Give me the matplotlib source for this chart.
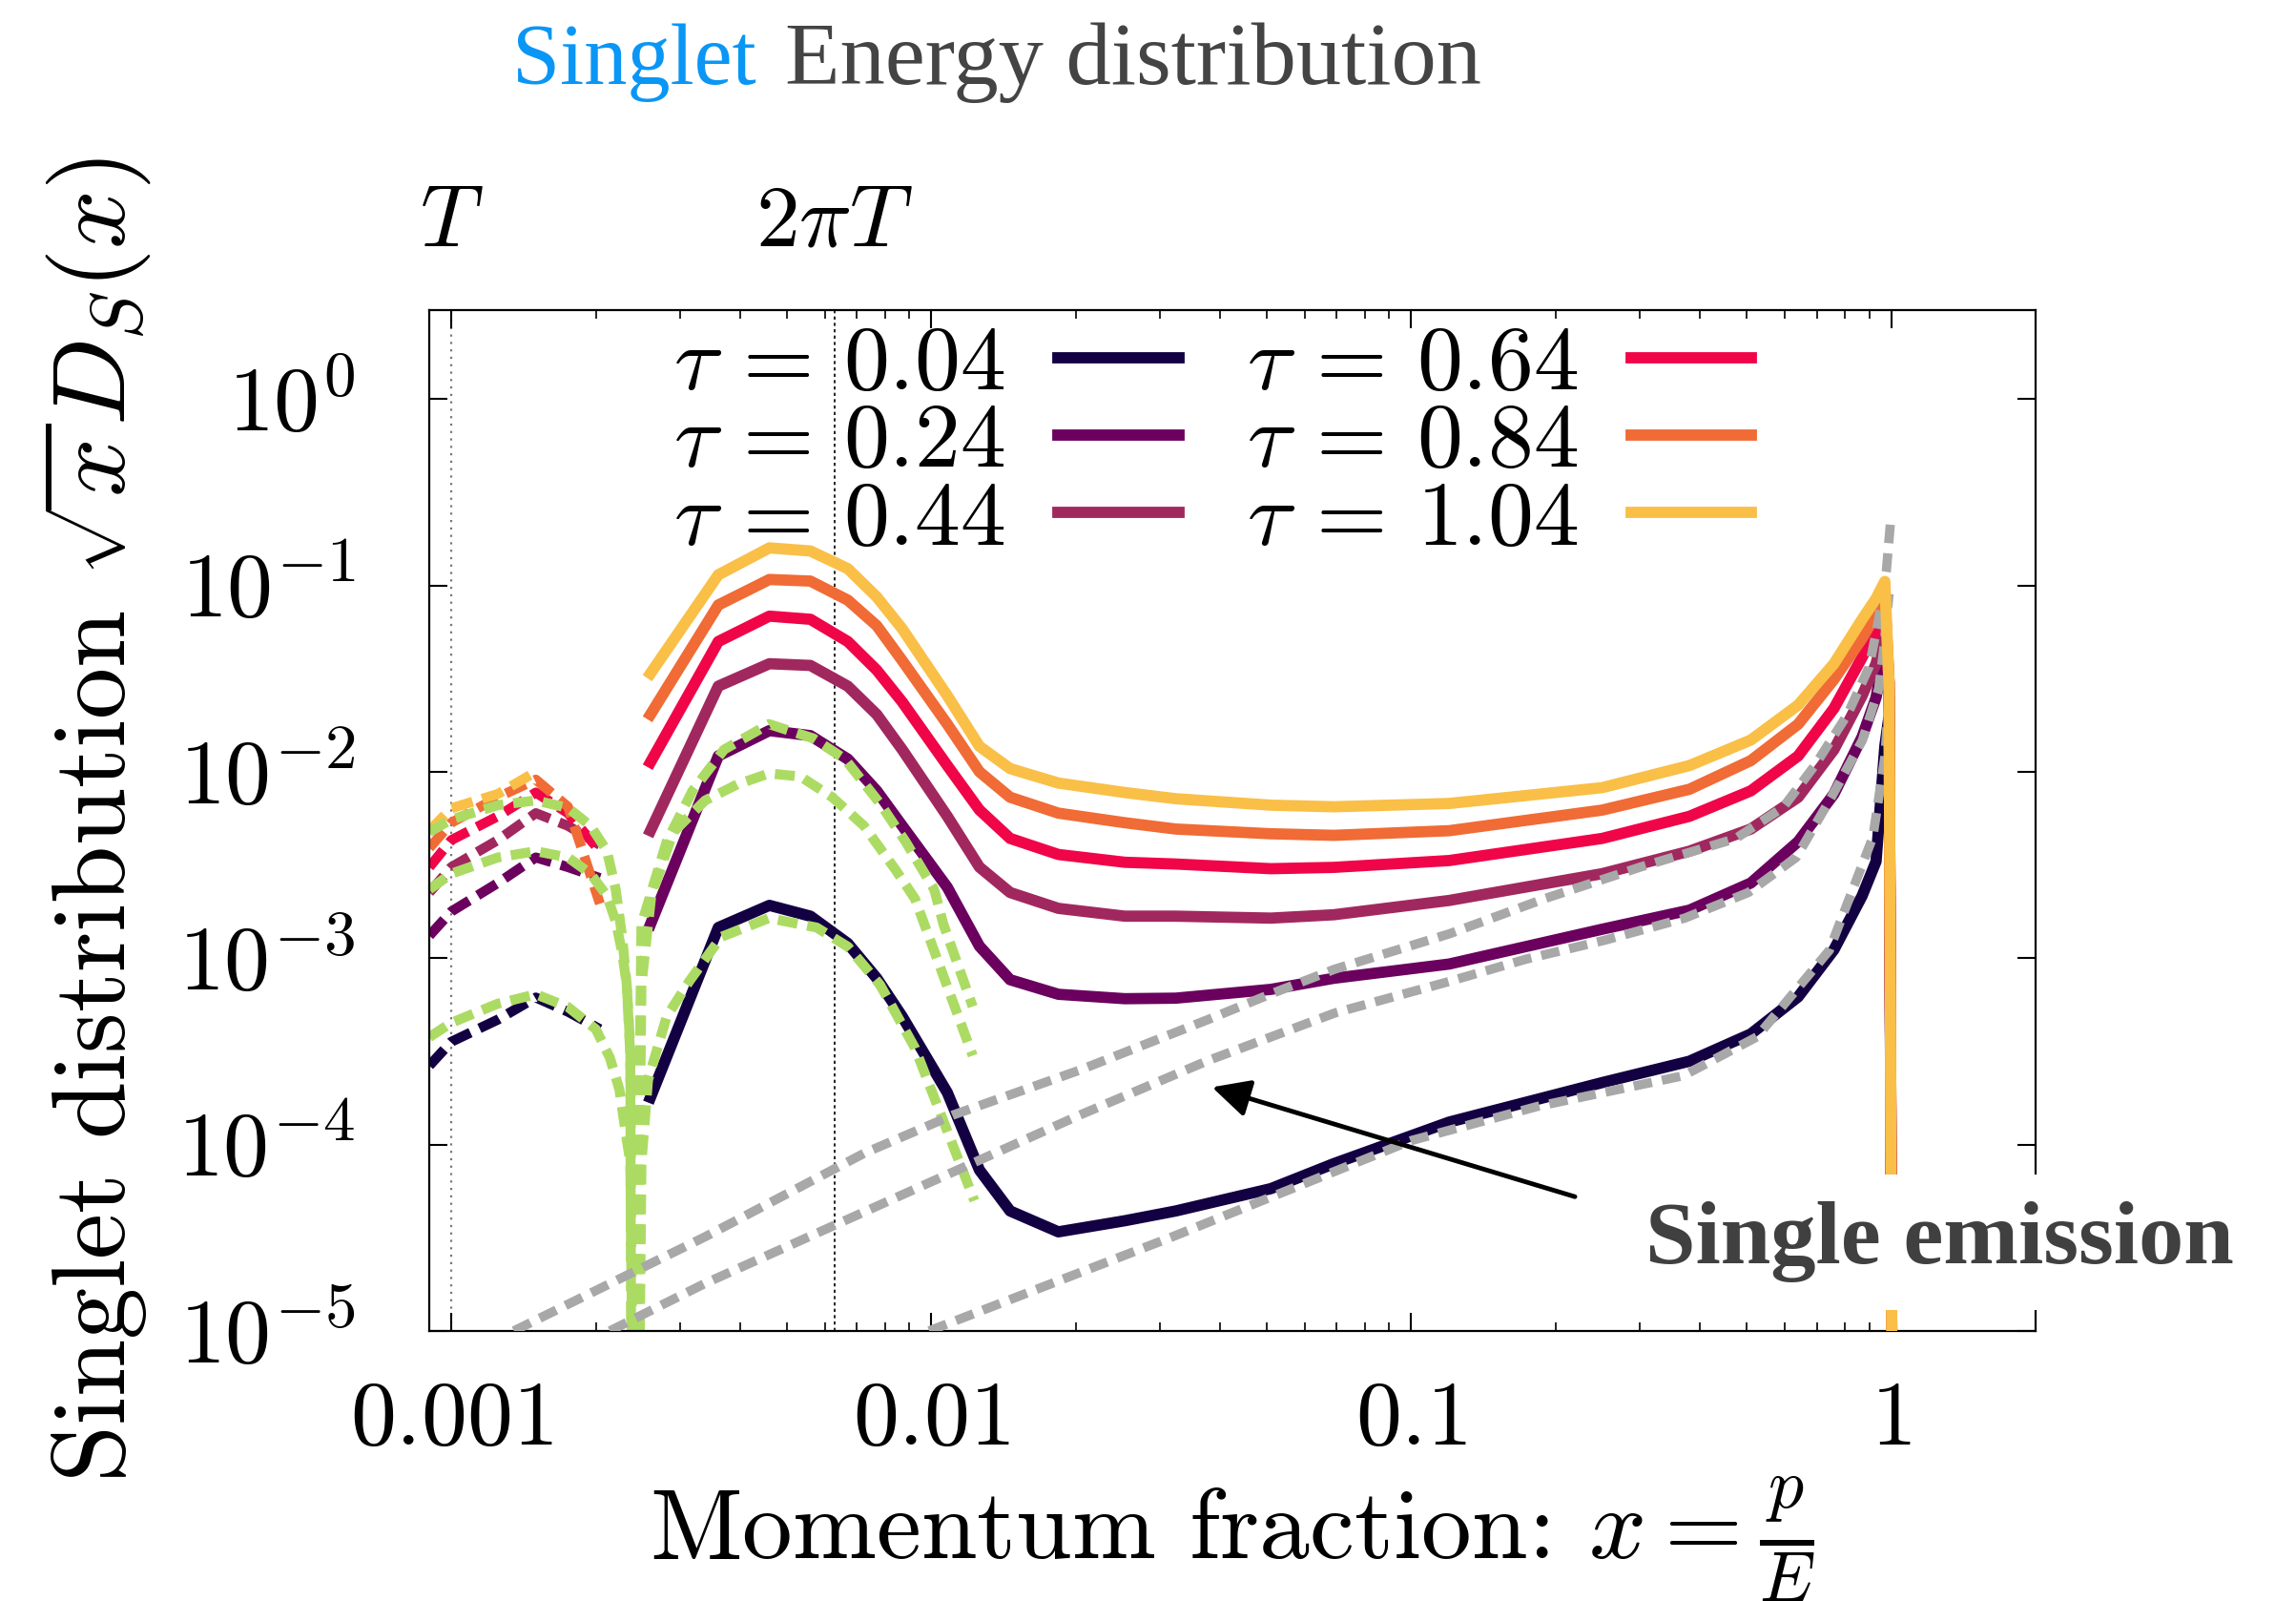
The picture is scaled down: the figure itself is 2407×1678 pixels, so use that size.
import matplotlib
matplotlib.use("Agg")
import matplotlib.pyplot as plt
from matplotlib.ticker import FixedLocator, FixedFormatter, NullFormatter
import matplotlib.transforms as mtransforms

plt.rcParams['mathtext.fontset'] = 'cm'
plt.rcParams['font.family'] = ['Liberation Serif', 'DejaVu Serif']

# Temperature scale (in units of E)
T_val = 0.001

taus = [0.04, 0.24, 0.44, 0.64, 0.84, 1.04]
tau_colors = ['#130042', '#6b005e', '#a1285e', '#f00548', '#f06b35', '#f9bf47']

# Full evolution, x > 2.5 T
x_solid = [0.0026, 0.0036, 0.0046, 0.0056, 0.0067, 0.0077, 0.0087, 0.0108, 0.0126,
           0.0146, 0.0184, 0.0253, 0.0323, 0.051, 0.069, 0.12, 0.25, 0.38, 0.51,
           0.64, 0.76, 0.87, 0.93, 0.97, 0.99, 1.01]
d_tau004 = [0.000179, 0.00146, 0.00192, 0.00168, 0.0012, 0.00078, 0.000486, 0.00019, 7.3e-5,
            4.4e-5, 3.4e-5, 3.9e-5, 4.4e-5, 5.8e-5, 7.9e-5, 0.000132, 0.000215, 0.00028, 0.000392,
            0.00062, 0.00111, 0.00216, 0.0033, 0.0137, 0.02, 1e-7]
d_tau024 = [0.00152, 0.01216, 0.01663, 0.01563, 0.0117, 0.0079, 0.00513, 0.0024, 0.00116,
            0.000766, 0.00064, 0.000606, 0.00061, 0.00068, 0.00078, 0.00093, 0.00143, 0.00181, 0.00253,
            0.00422, 0.0076, 0.0154, 0.025, 0.046, 0.025, 1e-7]
d_tau044 = [0.00483, 0.0288, 0.038, 0.0372, 0.0288, 0.0203, 0.01315, 0.00577, 0.00308,
            0.00225, 0.00185, 0.00168, 0.00168, 0.00164, 0.00171, 0.00204, 0.00284, 0.00375, 0.00493,
            0.0073, 0.01315, 0.0256, 0.038, 0.058, 0.03, 1e-7]
d_tau064 = [0.01125, 0.05, 0.0684, 0.0658, 0.05, 0.0351, 0.0237, 0.0108, 0.00624,
            0.00439, 0.0036, 0.00327, 0.0032, 0.00302, 0.00307, 0.00334, 0.00439, 0.00577, 0.0079,
            0.01216, 0.0219, 0.0411, 0.058, 0.078, 0.03, 1e-7]
d_tau084 = [0.0203, 0.0785, 0.1076, 0.1055, 0.0834, 0.0608, 0.0395, 0.018, 0.01,
            0.0073, 0.006, 0.00533, 0.00493, 0.00465, 0.00456, 0.00483, 0.00623, 0.00806, 0.01148,
            0.018, 0.0313, 0.052, 0.07, 0.09, 0.03, 1e-7]
d_tau104 = [0.0337, 0.114, 0.159, 0.153, 0.123, 0.0867, 0.0585, 0.0256, 0.0137,
            0.0104, 0.0087, 0.00774, 0.00717, 0.00662, 0.00649, 0.00676, 0.00822, 0.0108, 0.0148,
            0.0228, 0.038, 0.0658, 0.085, 0.105, 0.03, 1e-7]
d_solid = [d_tau004, d_tau024, d_tau044, d_tau064, d_tau084, d_tau104]

# Soft region, x < 2 T
x_soft = [0.0009, 0.001, 0.00125, 0.0015, 0.00175, 0.00204]
s_tau004 = [0.000265, 0.000356, 0.000468, 0.000615, 0.000516, 0.000416]
s_tau024 = [0.00132, 0.00178, 0.00253, 0.00347, 0.00308, 0.00269]
s_tau044 = [0.00225, 0.00308, 0.0043, 0.006, 0.00513, 0.00405]
s_tau064 = [0.00308, 0.0043, 0.00577, 0.00774, 0.006, 0.00375]
s_tau084 = [0.0039, 0.00533, 0.0073, 0.00908, 0.00649, 0.00196]
s_tau104 = [0.00483, 0.00637, 0.0076, 0.01]
d_soft = [s_tau004, s_tau024, s_tau044, s_tau064, s_tau084, s_tau104]

# Thermal (green) curves
x_th1 = [0.0009, 0.001, 0.00125, 0.0015, 0.00175, 0.002, 0.00214, 0.00224, 0.0023, 0.00236,
         0.00243, 0.00249, 0.00257, 0.00281, 0.00313, 0.00365, 0.00459, 0.00577, 0.00671,
         0.00782, 0.00925, 0.0123]
y_th1 = [0.000377, 0.00045, 0.00057, 0.00064, 0.000547, 0.000416, 0.000292, 0.000197, 0.000123, 8e-5,
         1e-7, 8e-5, 0.000222, 0.000486, 0.00075, 0.0013, 0.00164, 0.00146, 0.00115,
         0.00072, 0.000329, 5e-5]
x_th2 = [0.0009, 0.001, 0.00125, 0.0015, 0.00175, 0.00195, 0.00211, 0.0022, 0.00227, 0.00232,
         0.00236, 0.0024, 0.00249, 0.00261, 0.0029, 0.00338, 0.00394, 0.00459, 0.00534,
         0.00622, 0.00724, 0.00844, 0.00925, 0.0122]
y_th2 = [0.00234, 0.00284, 0.00347, 0.00375, 0.00347, 0.00284, 0.00216, 0.00158, 0.00107, 0.00072,
         0.00033, 1e-7, 0.00072, 0.00216, 0.00474, 0.00702, 0.00855, 0.0098, 0.00943,
         0.0073, 0.00513, 0.00296, 0.00208, 0.0003]
x_th3 = [0.0009, 0.001, 0.00125, 0.0015, 0.00175, 0.00195, 0.00211, 0.0022, 0.00227, 0.00232,
         0.00236, 0.00238, 0.00249, 0.00281, 0.00318, 0.0037, 0.00459, 0.00568, 0.00661,
         0.00782, 0.00884, 0.01014, 0.0106, 0.0122]
y_th3 = [0.00476, 0.00555, 0.00662, 0.00702, 0.0064, 0.00513, 0.00376, 0.00235, 0.0013, 0.00072,
         0.0003, 1e-7, 0.00152, 0.00422, 0.0079, 0.01315, 0.01803, 0.0151, 0.0117,
         0.00676, 0.00422, 0.00234, 0.00152, 0.00055]

# Single emission (grey) curves
x_se1 = [0.00135, 0.00338, 0.00726, 0.0111, 0.0204, 0.0377, 0.051, 0.0693, 0.12, 0.19,
         0.30, 0.474, 0.596, 0.693, 0.811, 0.90, 0.942, 0.977, 1.0]
y_se1 = [1.0e-5, 3.2e-5, 9.0e-5, 0.000144, 0.000251, 0.000468, 0.000643, 0.000873, 0.00135, 0.00209,
         0.00308, 0.00438, 0.00646, 0.0108, 0.0203, 0.0366, 0.0658, 0.119, 0.24]
x_se2 = [0.00214, 0.00338, 0.0204, 0.0377, 0.0693, 0.12, 0.173, 0.2536, 0.3715, 0.504,
         0.634, 0.75, 0.871, 0.942, 0.964, 0.99]
y_se2 = [1e-5, 1.8e-5, 0.000144, 0.000282, 0.000508, 0.00075, 0.000986, 0.00125, 0.00164, 0.00225,
         0.00347, 0.00728, 0.01475, 0.0279, 0.0446, 0.09]
x_se3 = [0.0099, 0.0318, 0.1, 0.183, 0.369, 0.525, 0.743, 0.916, 0.97, 0.995]
y_se3 = [1e-5, 3.2e-5, 0.000105, 0.00016, 0.000234, 0.000378, 0.0011, 0.00446, 0.012, 0.03]

green = '#acdb64'
grey = '#a8a8a8'

fig = plt.figure(figsize=(24.07, 16.78), dpi=100)
ax = fig.add_axes([0.187, 0.1687, 0.6996, 0.6376])
ax.set_xscale('log')
ax.set_yscale('log')

# vertical markers at T and 2 pi T
ax.axvline(T_val, color='#777777', lw=1.6, ls=(0, (1, 2.5)), zorder=1)
ax.axvline(2 * 3.14159265 * T_val, color='black', lw=1.2, ls=(0, (2, 2)), zorder=1)

handles = []
for i, (tau, ys, c) in enumerate(zip(taus, d_solid, tau_colors)):
    z = 4 if i == len(taus) - 1 else 2
    line, = ax.plot(x_solid, ys, color=c, lw=8.5, zorder=z,
                    label=r'$\tau\,=\,%.2f$' % tau)
    handles.append(line)

for ys, c in zip(d_soft, tau_colors):
    ax.plot(x_soft[:len(ys)], ys, color=c, lw=7.5, dashes=(2.2, 1.0), zorder=2.1)

for xs, ys in [(x_th1, y_th1), (x_th2, y_th2), (x_th3, y_th3)]:
    ax.plot(xs, ys, color=green, lw=7.5, dashes=(2.0, 1.0), zorder=2.2)

for xs, ys in [(x_se1, y_se1), (x_se2, y_se2), (x_se3, y_se3)]:
    ax.plot(xs, ys, color=grey, lw=7, dashes=(2.0, 1.1), zorder=3)

ax.set_xlim(0.0009, 2.0)
ax.set_ylim(1e-5, 3.0)

xt = [0.001, 0.01, 0.1, 1]
ax.xaxis.set_major_locator(FixedLocator(xt))
ax.xaxis.set_major_formatter(FixedFormatter([r'$0.001$', r'$0.01$', r'$0.1$', r'$1$']))
yt = [1e-5, 1e-4, 1e-3, 1e-2, 1e-1, 1]
ax.yaxis.set_major_locator(FixedLocator(yt))
ax.yaxis.set_major_formatter(FixedFormatter([r'$10^{-5}$', r'$10^{-4}$', r'$10^{-3}$',
                                             r'$10^{-2}$', r'$10^{-1}$', r'$10^{0}$']))
ax.xaxis.set_minor_formatter(NullFormatter())
ax.yaxis.set_minor_formatter(NullFormatter())

ax.tick_params(which='both', direction='in', top=True, right=True)
ax.tick_params(which='major', length=14, width=1.5, labelsize=69)
ax.tick_params(which='minor', length=6.5, width=1.2)
ax.tick_params(axis='x', which='major', pad=38)
ax.tick_params(axis='y', which='major', pad=56)
for s in ax.spines.values():
    s.set_linewidth(1.6)

ax.set_xlabel(r'Momentum fraction: $x = \frac{p}{E}$', fontsize=76, labelpad=8,
              family='cmr10')
ax.set_ylabel(r'Singlet distribution $\sqrt{x}D_S(x)$', fontsize=78, labelpad=18,
              family='cmr10')

# T and 2 pi T labels above the frame
trans = mtransforms.blended_transform_factory(ax.transData, ax.transAxes)
ax.text(T_val, 1.063, r'$T$', transform=trans, ha='center', va='baseline', fontsize=66)
ax.text(2 * 3.14159265 * T_val, 1.063, r'$2\pi T$', transform=trans, ha='center',
        va='baseline', fontsize=66)

ax.legend(handles=handles, ncol=2, markerfirst=False, frameon=False, fontsize=69,
          loc='upper left', bbox_to_anchor=(0.152, 0.985), borderpad=0, borderaxespad=0,
          handlelength=1.32, handletextpad=0.58, columnspacing=0.74, labelspacing=-0.06)

# Single emission annotation
ax.annotate('', xy=(0.038, 0.000205), xytext=(0.222, 5.2e-5),
            arrowprops=dict(arrowstyle='-|>', color='black', lw=3.5, mutation_scale=60),
            zorder=5)
ax.text(1.26, 3.0e-5, 'Single emission', fontsize=68, fontweight='bold', color='#404040',
        ha='center', va='center', zorder=6,
        bbox=dict(facecolor='white', edgecolor='none', boxstyle='square,pad=0.3'))

fig.text(537 / 2407, 1 - 88 / 1678, 'Singlet', color='#0a96f5', fontsize=65, va='baseline', ha='left')
fig.text(823 / 2407, 1 - 88 / 1678, 'Energy distribution', color='#444444', fontsize=68,
         va='baseline', ha='left')

fig.savefig('out.png', dpi=100)
